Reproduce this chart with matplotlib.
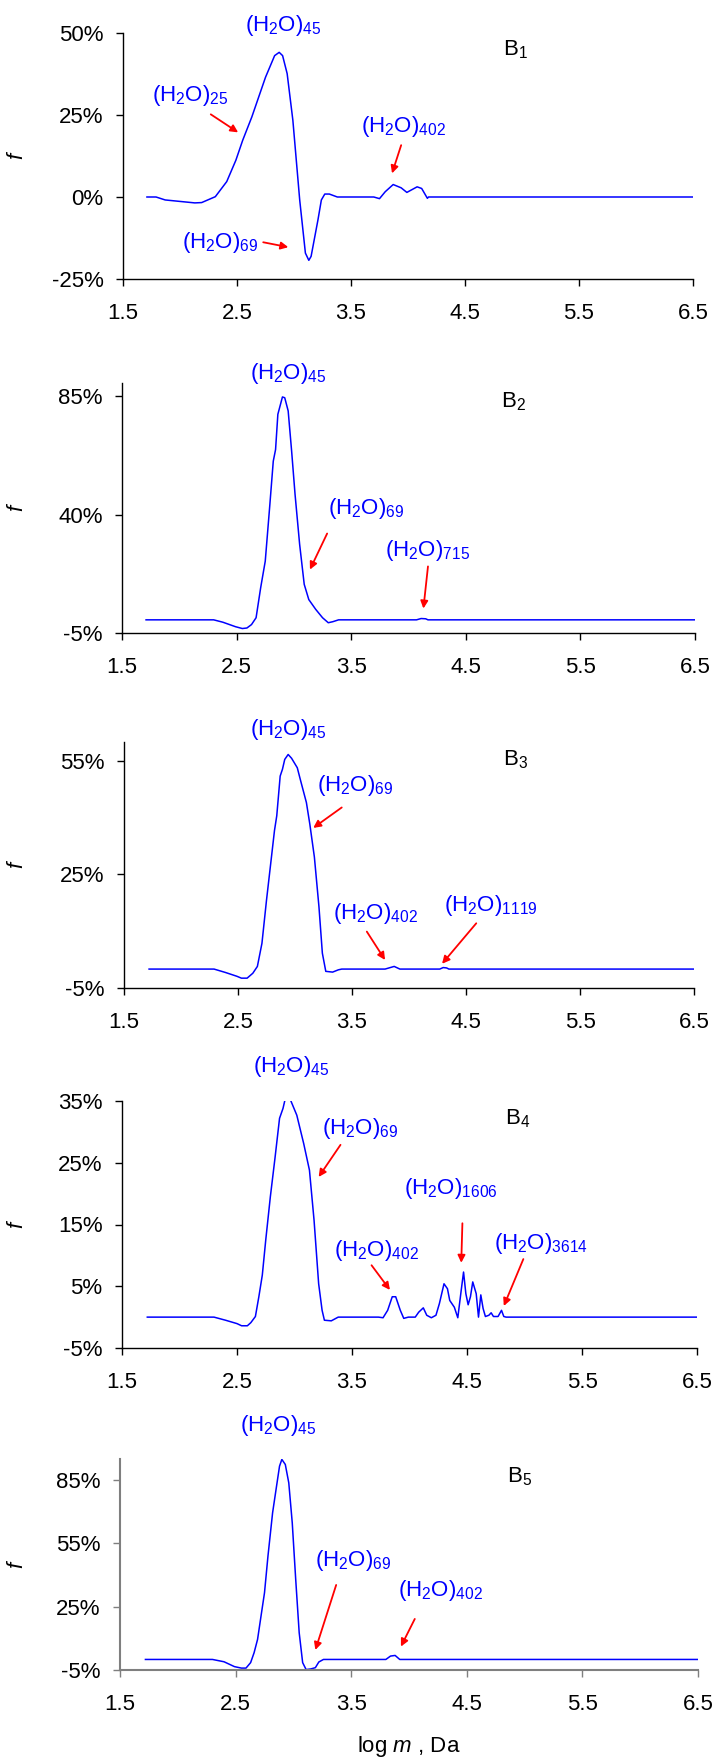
import numpy as np
import matplotlib
matplotlib.use('Agg')
import matplotlib.pyplot as plt
from matplotlib.ticker import FuncFormatter

plt.rcParams['font.family'] = ['Liberation Sans', 'DejaVu Sans']
plt.rcParams['mathtext.fontset'] = 'custom'
plt.rcParams['mathtext.rm'] = 'Liberation Sans'
plt.rcParams['mathtext.it'] = 'Liberation Sans:italic'

# ---- data (log m, f in %) ----
x_b1 = [1.71, 1.79, 1.87, 2.13, 2.19, 2.31, 2.41, 2.49, 2.55, 2.63, 2.75, 2.83, 2.87, 2.90, 2.94,
        2.99, 3.05, 3.10, 3.13, 3.15, 3.21, 3.24, 3.27, 3.31, 3.38, 3.70, 3.75, 3.80, 3.87, 3.94,
        3.99, 4.08, 4.12, 4.17, 4.18, 6.5]
f_b1 = [0, 0, -0.9, -1.8, -1.7, 0.1, 4.7, 11.2, 17.3, 24.4, 36.5, 43.1, 44.1, 43.1, 37.6,
        23.4, -0.9, -17.1, -19.3, -18.1, -7.0, -0.9, 0.9, 0.9, 0, 0, -0.5, 1.6, 3.8, 2.8,
        1.4, 3.1, 2.6, -0.4, 0, 0]

x_b2 = [1.71, 2.30, 2.38, 2.49, 2.55, 2.59, 2.63, 2.67, 2.71, 2.75, 2.79, 2.82, 2.84, 2.86, 2.90,
        2.92, 2.95, 2.98, 3.01, 3.05, 3.09, 3.13, 3.19, 3.25, 3.30, 3.34, 3.39, 4.07, 4.11, 4.15,
        4.17, 6.5]
f_b2 = [0, 0, -0.9, -2.6, -3.3, -3.1, -1.8, 0.8, 12.2, 22.3, 43.7, 60.3, 64.7, 78.1, 84.7,
        84.4, 79.4, 64.2, 47.7, 28.7, 13.5, 7.7, 4.0, 0.8, -1.1, -0.7, 0, 0, 0.5, 0.4,
        0, 0]

x_b3 = [1.72, 2.29, 2.39, 2.49, 2.53, 2.58, 2.63, 2.67, 2.71, 2.75, 2.79, 2.82, 2.84, 2.87, 2.89,
        2.91, 2.94, 2.97, 3.02, 3.05, 3.10, 3.13, 3.17, 3.21, 3.24, 3.27, 3.33, 3.38, 3.41, 3.79,
        3.87, 3.92, 4.27, 4.30, 4.33, 4.35, 6.5]
f_b3 = [0, 0, -0.9, -1.9, -2.4, -2.4, -1.1, 0.7, 6.8, 18.2, 28.7, 36.6, 40.5, 51.0, 52.8,
        55.4, 56.7, 55.7, 53.2, 49.7, 44.0, 38.3, 29.6, 16.5, 4.2, -0.6, -0.8, -0.2, 0, 0,
        0.7, 0, 0, 0.4, 0.3, 0, 0]

x_b4 = [1.72, 2.30, 2.40, 2.50, 2.54, 2.59, 2.62, 2.66, 2.69, 2.72, 2.75, 2.79, 2.83, 2.87, 2.90,
        2.92, 2.96, 3.02, 3.08, 3.13, 3.17, 3.21, 3.24, 3.26, 3.32, 3.38, 3.73, 3.77, 3.81, 3.85,
        3.88, 3.92, 3.95, 3.99, 4.05, 4.08, 4.12, 4.15, 4.19, 4.23, 4.26, 4.30, 4.33, 4.35, 4.39,
        4.42, 4.45, 4.47, 4.49, 4.51, 4.53, 4.55, 4.58, 4.60, 4.62, 4.64, 4.66, 4.69, 4.71, 4.73,
        4.77, 4.80, 4.82, 4.84, 6.5]
f_b4 = [0, 0, -0.5, -1.05, -1.4, -1.4, -0.9, 0.1, 3.3, 6.8, 12.5, 19.5, 25.7, 32.2, 33.8,
        35.4, 35.4, 32.7, 28.1, 23.8, 15.7, 5.4, 1.1, -0.5, -0.6, 0, 0, -0.1, 1.1, 3.3,
        3.3, 1.1, -0.2, 0, 0, 0.8, 1.5, 0.3, -0.1, 0.3, 2.2, 5.4, 4.6, 2.7, 1.6,
        -0.1, 4.4, 7.3, 3.8, 2.0, 3.3, 5.7, 3.8, 0, 3.6, 1.4, 0.1, 0.3, 0.7, 0.1,
        0.1, 1.1, 0.1, 0, 0]

x_b5 = [1.72, 2.30, 2.40, 2.49, 2.55, 2.59, 2.63, 2.66, 2.69, 2.72, 2.75, 2.78, 2.82, 2.85, 2.88,
        2.90, 2.93, 2.96, 2.99, 3.02, 3.05, 3.08, 3.11, 3.15, 3.19, 3.22, 3.26, 3.80, 3.84, 3.88,
        3.92, 6.5]
f_b5 = [0, 0, -1.1, -3.4, -4.1, -4.1, -1.5, 3.2, 9.5, 20.6, 31.6, 49.0, 69.5, 80.6, 91.6,
        94.8, 92.4, 83.7, 64.8, 37.9, 12.7, -1.5, -4.8, -4.5, -3.9, -1.2, 0, 0, 1.6, 1.9,
        0, 0]

series = [(x_b1, f_b1), (x_b2, f_b2), (x_b3, f_b3), (x_b4, f_b4), (x_b5, f_b5)]
panel_names = [r'B$_1$', r'B$_2$', r'B$_3$', r'B$_4$', r'B$_5$']
y_limits = [(-25, 50), (-5, 90), (-5, 60), (-5, 35), (-5, 95)]
y_ticks = [[-25, 0, 25, 50], [-5, 40, 85], [-5, 25, 55], [-5, 5, 15, 25, 35], [-5, 25, 55, 85]]

# label positions: (text, x, y, arrow tail, arrow tip)
labels = [
    [(r'(H$_2$O)$_{45}$', 2.91, 52.4, None, None),
     (r'(H$_2$O)$_{25}$', 2.09, 31.0, (2.27, 25.2), (2.51, 19.7)),
     (r'(H$_2$O)$_{402}$', 3.96, 21.4, (3.94, 15.8), (3.86, 7.2)),
     (r'(H$_2$O)$_{69}$', 2.35, -14.0, (2.73, -13.8), (2.95, -15.3))],
    [(r'(H$_2$O)$_{45}$', 2.95, 93.6, None, None),
     (r'(H$_2$O)$_{69}$', 3.63, 42.3, (3.29, 32.8), (3.14, 19.1)),
     (r'(H$_2$O)$_{715}$', 4.17, 26.4, (4.17, 20.3), (4.13, 4.3))],
    [(r'(H$_2$O)$_{45}$', 2.94, 63.3, None, None),
     (r'(H$_2$O)$_{69}$', 3.53, 48.4, (3.41, 42.7), (3.16, 37.3)),
     (r'(H$_2$O)$_{402}$', 3.71, 14.7, (3.63, 9.9), (3.79, 2.4)),
     (r'(H$_2$O)$_{1119}$', 4.72, 16.9, (4.59, 12.1), (4.29, 1.4))],
    [(r'(H$_2$O)$_{45}$', 2.97, 40.6, None, None),
     (r'(H$_2$O)$_{69}$', 3.57, 30.6, (3.40, 27.9), (3.21, 22.7)),
     (r'(H$_2$O)$_{1606}$', 4.36, 20.8, (4.46, 15.2), (4.45, 8.8)),
     (r'(H$_2$O)$_{402}$', 3.71, 10.8, (3.67, 8.4), (3.83, 4.4)),
     (r'(H$_2$O)$_{3614}$', 5.14, 11.9, (4.99, 9.4), (4.82, 1.8))],
    [(r'(H$_2$O)$_{45}$', 2.87, 111.0, None, None),
     (r'(H$_2$O)$_{69}$', 3.52, 47.1, (3.37, 35.3), (3.19, 4.5)),
     (r'(H$_2$O)$_{402}$', 4.27, 32.9, (4.05, 19.2), (3.93, 6.1))],
]
name_pos = [(4.94, 45.0), (4.92, 82.8), (4.93, 55.4), (4.94, 32.2), (4.96, 86.6)]
x_ticks = [1.5, 2.5, 3.5, 4.5, 5.5, 6.5]

# axes boxes in pixels (left, right, top, bottom)
boxes = [(123, 693, 33, 279), (122, 695, 383, 633), (124, 694, 742, 988),
         (122, 697, 1101, 1348), (120, 698, 1459, 1670)]

W, H = 716, 1760
fig = plt.figure(figsize=(W / 100, H / 100), dpi=100)

pct = FuncFormatter(lambda v, p: f'{v:.0f}%')

for i, (xs, fs) in enumerate(series):
    l, r, t, b = boxes[i]
    ax = fig.add_axes([l / W, (H - b) / H, (r - l) / W, (b - t) / H])
    ax.plot(xs, fs, color='#0000FF', linewidth=1.1)

    ax.set_xlim(1.5, 6.5)
    ax.set_ylim(*y_limits[i])
    ax.set_xticks(x_ticks)
    ax.set_yticks(y_ticks[i])
    ax.yaxis.set_major_formatter(pct)
    ax.xaxis.set_major_formatter(FuncFormatter(lambda v, p: f'{v:.1f}'))

    spine_col = '#7f7f7f' if i == 4 else 'black'
    spine_w = 1.5 if i == 4 else 1.0
    for s in ['top', 'right']:
        ax.spines[s].set_visible(False)
    for s in ['left', 'bottom']:
        ax.spines[s].set_color(spine_col)
        ax.spines[s].set_linewidth(spine_w)
    ax.tick_params(axis='both', direction='out', length=5, width=1, colors='black', labelsize=16)
    ax.tick_params(axis='x', pad=12, color=spine_col)
    ax.tick_params(axis='y', pad=9, color=spine_col)

    # "f" label: glyph centred near x = 20 px
    ax.set_ylabel('f', fontsize=16, style='italic')
    ax.yaxis.set_label_coords(-(l - 27) / (r - l), 0.5)

    ax.text(name_pos[i][0], name_pos[i][1], panel_names[i], fontsize=16,
            ha='center', va='center', color='black')

    for txt, tx, ty, tail, tip in labels[i]:
        ax.text(tx, ty, txt, fontsize=16, color='#0000FF', ha='center', va='center', clip_on=False)
        if tail is not None:
            ax.annotate('', xy=tip, xytext=tail,
                        arrowprops=dict(arrowstyle='-|>', color='red', lw=1.3, mutation_scale=11,
                                        shrinkA=0, shrinkB=0))

    if i == 4:
        ax.set_xlabel(r'log $\mathit{m}$ , Da', fontsize=16, labelpad=14)

fig.savefig('out.png', dpi=100)
